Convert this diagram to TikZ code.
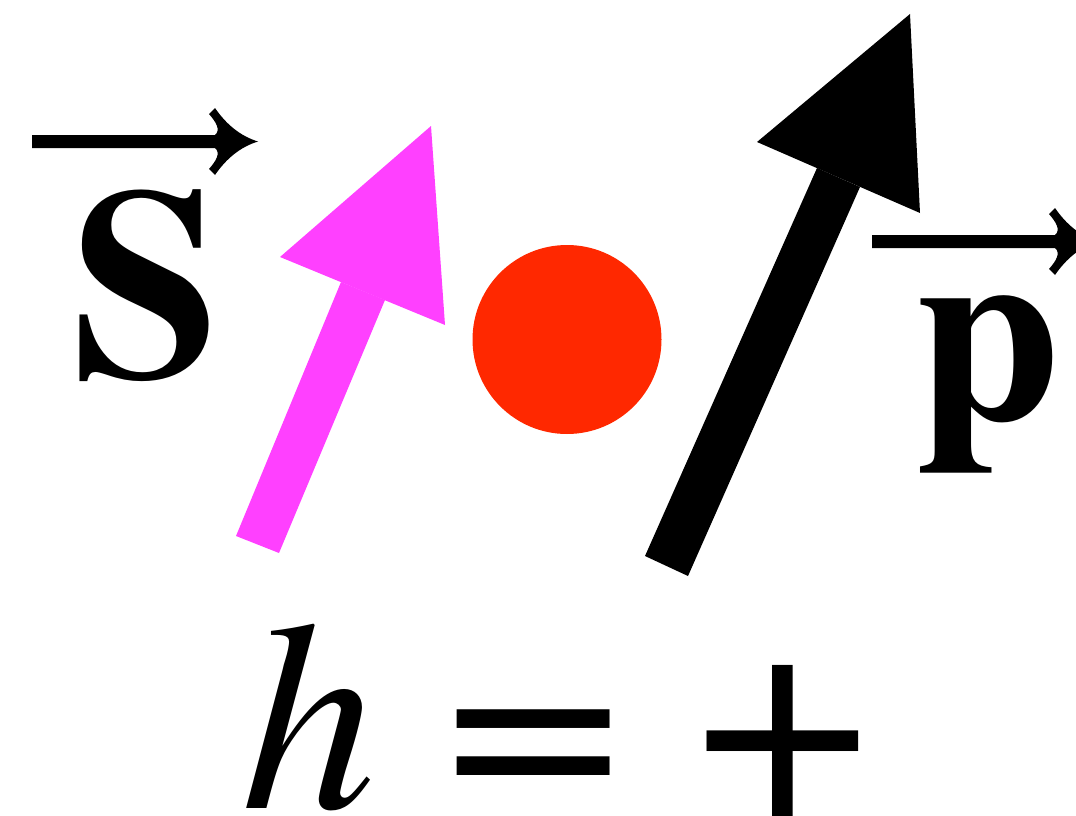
\documentclass[tikz,border=0pt]{standalone}
\usepackage{fontspec}
\setmainfont{TeX Gyre Termes}
\definecolor{spinmag}{RGB}{255,64,255}
\definecolor{dotred}{RGB}{255,40,0}
\tikzset{
  big/.style={inner sep=0pt, font=\fontsize{270}{270}\selectfont},
  bigbf/.style={inner sep=0pt, font=\fontsize{270}{270}\selectfont\bfseries},
  bigit/.style={inner sep=0pt, font=\fontsize{270}{270}\selectfont\itshape},
  vecarrow/.pic={
    \fill[black] (258,141.5) .. controls (240,136) and (226,124) .. (215,108)
      -- (209,114) .. controls (216,122) and (221,130) .. (215,135)
      -- (32,135) -- (32,148) -- (215,148)
      .. controls (221,153) and (216,161) .. (209,169)
      -- (215,175) .. controls (226,159) and (240,147) .. cycle;
  }
}
\begin{document}
\begin{tikzpicture}[x=1pt,y=-1pt]
\useasboundingbox (0,0) rectangle (1076,816);
\begin{scope}
\clip (0,0) rectangle (1076,816);
% spin arrow (magenta)
\fill[spinmag] (236,536) -- (279,553) -- (385,300) -- (341,282) -- cycle;
\fill[spinmag] (280,257) -- (431,126) -- (445,325) -- cycle;
% particle
\fill[dotred] (567,339.5) circle[radius=94.5];
% momentum arrow (black)
\fill[black] (645,556) -- (688,576) -- (860,187) -- (817,168) -- cycle;
\fill[black] (757,142) -- (910,14) -- (920,213) -- cycle;
% labels
\node[bigbf, anchor=base] (S) at (146,376) {S};
\node[bigbf, anchor=base] (p) at (988,419) {\scalebox{0.97}{p}};
\pic at (0,0) {vecarrow};
\pic at (840,100) {vecarrow};
\node[bigit, anchor=base] (h) at (309,808) {h};
\node[big, anchor=base] (eq) at (534,813) {\scalebox{1.17}[1.05]{=}};
\node[big, anchor=base] (plus) at (783,819.5) {\scalebox{1.16}{+}};
\end{scope}
\end{tikzpicture}
\end{document}
